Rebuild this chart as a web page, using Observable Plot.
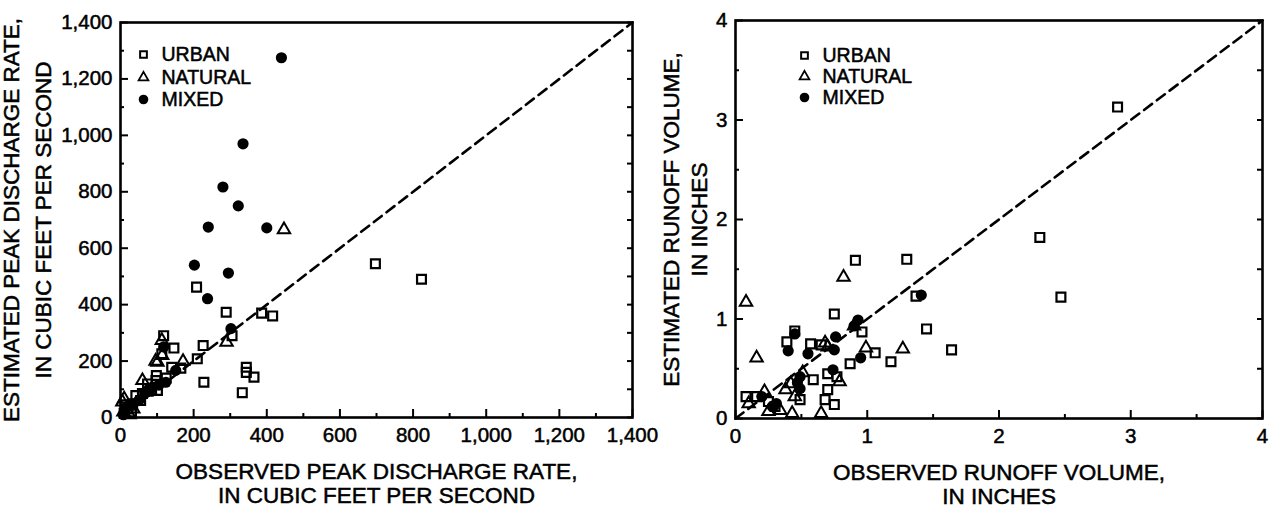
<!DOCTYPE html>
<html><head><meta charset="utf-8">
<script src="https://cdn.jsdelivr.net/npm/d3@7"></script>
<script src="https://cdn.jsdelivr.net/npm/@observablehq/plot@0.6"></script>
<style>
body{margin:0;background:#fff;}
#wrap{display:flex;width:1278px;height:510px;overflow:hidden;}
#wrap svg{overflow:visible;}
#wrap svg text{stroke:#000;stroke-width:0.5px;}
</style></head><body><div id="wrap"></div>
<script>
// ---------- shared ----------
const categories = ["URBAN", "NATURAL", "MIXED"];
const symbols = ["square", "triangle", "circle"];

// ---------- left panel: peak discharge (cubic feet per second) ----------
const peakDomain = [0, 1400];
const peakMajorTicks = [0, 200, 400, 600, 800, 1000, 1200, 1400];
const peakMinorTicks = [100, 300, 500, 700, 900, 1100, 1300];
const peakXTitle = ["OBSERVED PEAK DISCHARGE RATE,", "IN CUBIC FEET PER SECOND"];
const peakYTitle = ["ESTIMATED PEAK DISCHARGE RATE,", "IN CUBIC FEET PER SECOND"];

const peakUrbanObs = [823, 697, 416, 386, 289, 208, 305, 226, 210, 146, 118, 113, 140, 228, 344, 344, 365, 333, 98, 97, 74, 101, 42, 33, 20, 10, 55, 85, 125, 60, 15, 30, 165];
const peakUrbanEst = [490, 545, 360, 370, 373, 462, 290, 255, 208, 246, 290, 226, 178, 125, 178, 160, 143, 88, 149, 131, 119, 96, 78, 49, 30, 15, 60, 100, 140, 85, 45, 20, 175];
const peakNaturalObs = [447, 290, 171, 113, 101, 60, 10, 96, 114, 20, 5, 35, 70, 8, 25];
const peakNaturalEst = [666, 267, 199, 273, 196, 131, 66, 200, 220, 40, 55, 30, 90, 20, 10];
const peakMixedObs = [440, 335, 280, 322, 240, 400, 202, 295, 238, 302, 118, 151, 124, 88, 69, 50, 14, 30, 105, 8];
const peakMixedEst = [1275, 970, 817, 750, 675, 672, 540, 512, 421, 315, 250, 167, 125, 108, 90, 60, 30, 45, 115, 10];

// ---------- right panel: runoff volume (inches) ----------
const volDomain = [0, 4];
const volMajorTicks = [0, 1, 2, 3, 4];
const volMinorTicks = [0.5, 1.5, 2.5, 3.5];
const volXTitle = ["OBSERVED RUNOFF VOLUME,", "IN INCHES"];
const volYTitle = ["ESTIMATED RUNOFF VOLUME,", "IN INCHES"];

const volUrbanObs = [2.90, 2.31, 2.47, 1.30, 0.91, 1.37, 0.75, 1.45, 1.64, 0.96, 1.06, 1.18, 0.87, 0.45, 0.39, 0.57, 0.65, 0.59, 0.70, 0.70, 0.68, 0.75, 0.49, 0.08, 0.16, 0.25, 0.77, 0.30];
const volUrbanEst = [3.13, 1.82, 1.22, 1.60, 1.59, 1.23, 1.05, 0.90, 0.69, 0.87, 0.66, 0.57, 0.55, 0.88, 0.77, 0.75, 0.74, 0.39, 0.45, 0.29, 0.19, 0.14, 0.19, 0.22, 0.22, 0.17, 0.42, 0.12];
const volNaturalObs = [0.08, 0.16, 0.82, 0.99, 1.27, 0.68, 0.79, 0.65, 0.43, 0.34, 0.25, 0.38, 0.42, 0.45, 0.10, 0.22, 0.51, 0.90, 0.70];
const volNaturalEst = [1.17, 0.61, 1.42, 0.71, 0.70, 0.76, 0.37, 0.05, 0.05, 0.08, 0.07, 0.29, 0.35, 0.22, 0.15, 0.27, 0.46, 0.93, 0.72];
const volMixedObs = [1.41, 0.93, 0.90, 0.45, 0.40, 0.55, 0.76, 0.75, 0.95, 0.74, 0.49, 0.49, 0.20, 0.31, 0.28, 0.47];
const volMixedEst = [1.24, 0.99, 0.93, 0.85, 0.68, 0.65, 0.82, 0.69, 0.61, 0.49, 0.42, 0.30, 0.22, 0.15, 0.12, 0.36];

const FONT = "'Liberation Sans', Arial, Helvetica, sans-serif";

function rows(obs, est) { return obs.map((o, i) => ({x: o, y: est[i]})); }

function panel(cfg) {
  const series = [rows(...cfg.urban), rows(...cfg.natural), rows(...cfg.mixed)];
  const m = cfg.margin;
  const marks = [
    // 1:1 line
    Plot.line(cfg.domain.map(v => ({x: v, y: v})), {x: "x", y: "y", stroke: "black", strokeWidth: 2.6, strokeDasharray: "10,6"}),
    // points
    Plot.dot(series[0], {x: "x", y: "y", symbol: "square", r: 5, fill: "none", stroke: "black", strokeWidth: 2.2}),
    Plot.dot(series[1], {x: "x", y: "y", symbol: "triangle", r: 4.6, fill: "none", stroke: "black", strokeWidth: 2}),
    Plot.dot(series[2], {x: "x", y: "y", symbol: "circle", r: 5.6, fill: "black", stroke: "none"}),
    // axes: inward ticks
    Plot.axisX({anchor: "bottom", ticks: cfg.major, tickSize: -8, tickPadding: 18, strokeWidth: 2, tickFormat: cfg.fmt, fontSize: 20.5, label: null}),
    Plot.axisX({anchor: "bottom", ticks: cfg.minor, tickSize: -4, strokeWidth: 2, tickFormat: () => "", label: null}),
    Plot.axisY({anchor: "left", ticks: cfg.major, tickSize: -8, tickPadding: 16, strokeWidth: 2, tickFormat: cfg.fmt, fontSize: 20.5, label: null}),
    Plot.axisY({anchor: "left", ticks: cfg.minor, tickSize: -4, strokeWidth: 2, tickFormat: () => "", label: null}),
    Plot.axisY({anchor: "right", ticks: cfg.rightTicks, tickSize: -6, strokeWidth: 2, tickFormat: () => "", label: null}),
    Plot.frame({stroke: "black", strokeWidth: 2.6}),
    // axis titles
    ...cfg.xTitle.map((t, i) => Plot.text([t], {frameAnchor: "bottom", dy: cfg.xTitleDy[i], text: d => d, fontSize: 22.5, textAnchor: "middle", lineAnchor: "middle"})),
    ...cfg.yTitle.map((t, i) => Plot.text([t], {frameAnchor: "left", dx: cfg.yTitleDx[i], text: d => d, fontSize: 22.5, rotate: -90, textAnchor: "middle", lineAnchor: "middle"})),
  ];
  // legend
  const legSizes = [{r: 3.8, sw: 2}, {r: 3.6, sw: 1.8}, {r: 4.8, sw: 0}];
  categories.forEach((c, i) => {
    marks.push(Plot.dot([c], {frameAnchor: "top-left", dx: cfg.legDx, dy: cfg.legDy[i], symbol: symbols[i], r: legSizes[i].r,
      fill: i === 2 ? "black" : "none", stroke: i === 2 ? "none" : "black", strokeWidth: legSizes[i].sw}));
    marks.push(Plot.text([c], {frameAnchor: "top-left", dx: cfg.legDx + 18, dy: cfg.legDy[i], text: d => d, textAnchor: "start", lineAnchor: "middle", fontSize: 19.5}));
  });
  return Plot.plot({
    width: cfg.width, height: 510,
    marginLeft: m[0], marginRight: m[1], marginTop: m[2], marginBottom: m[3],
    x: {domain: cfg.domain}, y: {domain: cfg.domain},
    style: {fontFamily: FONT, color: "black", background: "transparent", overflow: "visible"},
    marks
  });
}

const left = panel({
  width: 640, margin: [120, 8, 22, 93], domain: peakDomain,
  major: peakMajorTicks, minor: peakMinorTicks,
  rightTicks: peakMajorTicks.concat(peakMinorTicks),
  fmt: d3.format(","),
  urban: [peakUrbanObs, peakUrbanEst], natural: [peakNaturalObs, peakNaturalEst], mixed: [peakMixedObs, peakMixedEst],
  xTitle: peakXTitle, yTitle: peakYTitle, xTitleDy: [54, 78], yTitleDx: [-109, -77],
  legDx: 23, legDy: [32, 55, 77]
});
const right = panel({
  width: 638, margin: [95, 16, 20, 92], domain: volDomain,
  major: volMajorTicks, minor: volMinorTicks,
  rightTicks: volMajorTicks.concat(volMinorTicks),
  fmt: d3.format("d"),
  urban: [volUrbanObs, volUrbanEst], natural: [volNaturalObs, volNaturalEst], mixed: [volMixedObs, volMixedEst],
  xTitle: volXTitle, yTitle: volYTitle, xTitleDy: [54, 78], yTitleDx: [-64, -36],
  legDx: 69, legDy: [35, 56, 77]
});
document.getElementById("wrap").append(left, right);
</script></body></html>
